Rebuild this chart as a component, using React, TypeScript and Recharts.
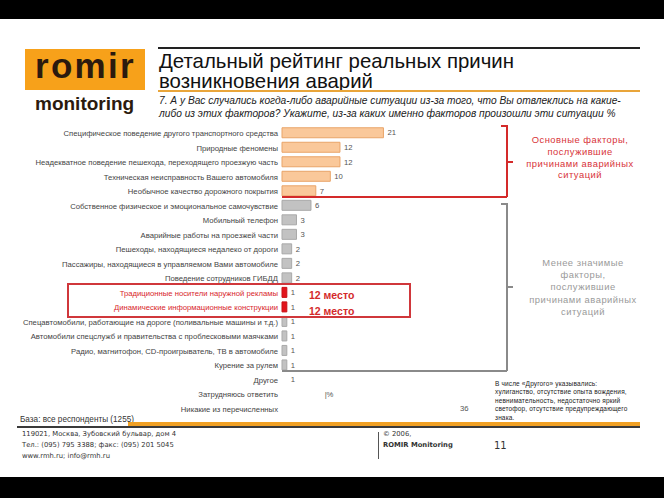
import React from "react";
import { BarChart, Bar, XAxis, YAxis, Cell, LabelList } from "recharts";

const categories = [
  "Специфическое поведение другого транспортного средства",
  "Природные феномены",
  "Неадекватное поведение пешехода, переходящего проезжую часть",
  "Техническая неисправность Вашего автомобиля",
  "Необычное качество дорожного покрытия",
  "Собственное физическое и эмоциональное самочувствие",
  "Мобильный телефон",
  "Аварийные работы на проезжей части",
  "Пешеходы, находящиеся недалеко от дороги",
  "Пассажиры, находящиеся в управляемом Вами автомобиле",
  "Поведение сотрудников ГИБДД",
  "Традиционные носители наружной рекламы",
  "Динамические информационные конструкции",
  "Спецавтомобили, работающие на дороге (поливальные машины и т.д.)",
  "Автомобили спецслужб и правительства с проблесковыми маячками",
  "Радио, магнитофон, CD-проигрыватель, ТВ в автомобиле",
  "Курение за рулем",
  "Другое",
  "Затрудняюсь ответить",
  "Никакие из перечисленных",
];

const values = [21, 12, 12, 10, 7, 6, 3, 3, 2, 2, 2, 1, 1, 1, 1, 1, 1, 1, 8, 36];

const valueLabels = [
  "21", "12", "12", "10", "7", "6", "3", "3", "2", "2", "2", "1", "1", "1", "1", "1", "1", "1", "|%", "36",
];

// main = top factors, minor = less significant, focus = highlighted rows, none = no bar drawn
const groups = [
  "main", "main", "main", "main", "main",
  "minor", "minor", "minor", "minor", "minor", "minor",
  "focus", "focus",
  "minor", "minor", "minor", "minor",
  "none", "none", "none",
];

const xTicks = [0, 40];

const FILL: Record<string, string> = {
  main: "#FAC89A",
  minor: "#C2C2C2",
  focus: "#E2141C",
  none: "transparent",
};
const EDGE: Record<string, string> = {
  main: "#E9A468",
  minor: "#A9A9A9",
  focus: "#C81016",
  none: "transparent",
};

const data = categories.map((name, i) => ({
  name,
  value: values[i],
  label: valueLabels[i],
  group: groups[i],
}));

const SANS = "'Liberation Sans', Arial, sans-serif";
const TAHOMA = "'DejaVu Sans', Verdana, sans-serif";

function CategoryTick(props: any) {
  const { x, y, payload } = props;
  const red = groups[payload.index] === "focus";
  return (
    <text
      x={x}
      y={y}
      dy={3}
      textAnchor="end"
      fontSize={7.7}
      fontFamily={SANS}
      fill={red ? "#D8262C" : "#444"}
    >
      {payload.value}
    </text>
  );
}

const abs = (s: React.CSSProperties): React.CSSProperties => ({ position: "absolute", ...s });

export default function App() {
  return (
    <div
      style={{
        position: "absolute",
        left: 0,
        top: 0,
        width: 664,
        height: 498,
        background: "#fff",
        overflow: "hidden",
        fontFamily: SANS,
      }}
    >
      {/* black bands */}
      <div style={abs({ left: 0, top: 0, width: 664, height: 19, background: "#000" })} />
      <div style={abs({ left: 0, top: 477, width: 664, height: 21, background: "#000" })} />

      {/* logo */}
      <div style={abs({ left: 25, top: 49, width: 120, height: 41, background: "#F7A11A" })} />
      <div
        style={abs({
          left: 35,
          top: 46,
          fontSize: 35,
          fontWeight: 700,
          color: "#2B1A0E",
          lineHeight: "40px",
          letterSpacing: 2.3,
        })}
      >
        romir
      </div>
      <div
        style={abs({ left: 35, top: 93, fontSize: 19, fontWeight: 700, color: "#2B1A0E", lineHeight: "22px" })}
      >
        monitoring
      </div>

      {/* title */}
      <div style={abs({ left: 158, top: 47, width: 482, height: 1.5, background: "#222" })} />
      <div
        style={abs({ left: 159, top: 51, fontSize: 20.4, lineHeight: "20px", color: "#111", whiteSpace: "nowrap" })}
      >
        Детальный рейтинг реальных причин
        <br />
        возникновения аварий
      </div>
      <div style={abs({ left: 158, top: 90, width: 482, height: 1.5, background: "#E9A53A" })} />
      <div
        style={abs({
          left: 159,
          top: 94,
          fontSize: 10.2,
          lineHeight: "13px",
          fontStyle: "italic",
          color: "#222",
          whiteSpace: "nowrap",
        })}
      >
        7. А у Вас случались когда-либо аварийные ситуации из-за того, что Вы отвлеклись на какие-
        <br />
        либо из этих факторов? Укажите, из-за каких именно факторов произошли эти ситуации %
      </div>

      {/* chart */}
      <div style={abs({ left: 0, top: 0 })}>
        <BarChart
          width={500}
          height={430}
          data={data}
          layout="vertical"
          margin={{ top: 125.75, right: 24.8, bottom: 14, left: 0 }}
          barSize={10}
        >
          <XAxis type="number" domain={[0, 40]} ticks={xTicks} hide />
          <YAxis
            type="category"
            dataKey="name"
            width={282}
            axisLine={false}
            tickLine={false}
            tickSize={2}
            tickMargin={2}
            interval={0}
            tick={<CategoryTick />}
          />
          <Bar dataKey="value" isAnimationActive={false} strokeWidth={1}>
            {data.map((d, i) => (
              <Cell key={i} fill={FILL[d.group]} stroke={EDGE[d.group]} />
            ))}
            <LabelList
              dataKey="label"
              position="right"
              offset={4}
              fontSize={7.7}
              fontFamily={SANS}
              fill="#555"
            />
          </Bar>
        </BarChart>
      </div>

      {/* main factors bracket (red) */}
      <div style={abs({ left: 501, top: 125, width: 6, height: 1.5, background: "#D42A2A" })} />
      <div style={abs({ left: 506, top: 125, width: 1.5, height: 72, background: "#D42A2A" })} />
      <div style={abs({ left: 282, top: 196, width: 225, height: 1.5, background: "#D42A2A" })} />
      <div style={abs({ left: 507, top: 161, width: 6, height: 1.5, background: "#D42A2A" })} />
      <div
        style={abs({
          left: 520,
          top: 134,
          width: 120,
          textAlign: "center",
          fontSize: 9.4,
          lineHeight: "11.8px",
          letterSpacing: 0.5,
          color: "#D8343A",
        })}
      >
        Основные факторы,
        <br />
        послужившие
        <br />
        причинами аварийных
        <br />
        ситуаций
      </div>

      {/* less significant bracket (gray) */}
      <div style={abs({ left: 501, top: 203, width: 6, height: 1.5, background: "#8A8A8A" })} />
      <div style={abs({ left: 506, top: 203, width: 1.5, height: 168, background: "#8A8A8A" })} />
      <div style={abs({ left: 282, top: 370, width: 225, height: 1.5, background: "#8A8A8A" })} />
      <div style={abs({ left: 507, top: 286, width: 6, height: 1.5, background: "#8A8A8A" })} />
      <div
        style={abs({
          left: 523,
          top: 257,
          width: 120,
          textAlign: "center",
          fontSize: 9.4,
          lineHeight: "12.2px",
          letterSpacing: 0.5,
          color: "#9A9A9A",
        })}
      >
        Менее значимые
        <br />
        факторы,
        <br />
        послужившие
        <br />
        причинами аварийных
        <br />
        ситуаций
      </div>

      {/* highlighted rows */}
      <div
        style={abs({
          left: 67,
          top: 283,
          width: 340,
          height: 31,
          border: "2px solid #D0373B",
        })}
      />
      <div style={abs({ left: 309, top: 289, fontSize: 10.5, fontWeight: 700, color: "#D42A2A", lineHeight: "12px" })}>
        12 место
      </div>
      <div style={abs({ left: 309, top: 305, fontSize: 10.5, fontWeight: 700, color: "#D42A2A", lineHeight: "12px" })}>
        12 место
      </div>

      {/* footnote */}
      <div
        style={abs({
          left: 495,
          top: 380,
          fontSize: 6.5,
          lineHeight: "8.4px",
          letterSpacing: 0.15,
          color: "#222",
          whiteSpace: "nowrap",
        })}
      >
        В числе «Другого» указывались:
        <br />
        хулиганство, отсутствие опыта вождения,
        <br />
        невнимательность, недостаточно яркий
        <br />
        светофор, отсутствие предупреждающего
        <br />
        знака.
      </div>

      {/* base */}
      <div style={abs({ left: 20, top: 414, fontSize: 8.2, color: "#333", lineHeight: "12px" })}>
        База: все респонденты (1255)
      </div>
      <div style={abs({ left: 128, top: 422, width: 512, height: 4, background: "#F0A024" })} />
      <div style={abs({ left: 17, top: 426, width: 623, height: 1.5, background: "#3A3A3A" })} />

      {/* footer */}
      <div
        style={abs({
          left: 22,
          top: 429,
          fontSize: 6.8,
          lineHeight: "10.8px",
          color: "#333",
          fontFamily: TAHOMA,
        })}
      >
        119021, Москва, Зубовский бульвар, дом 4
        <br />
        Тел.: (095) 795 3388; факс: (095) 201 5045
        <br />
        www.rmh.ru; info@rmh.ru
      </div>
      <div style={abs({ left: 378, top: 432, width: 1, height: 27, background: "#555" })} />
      <div
        style={abs({
          left: 383,
          top: 429,
          fontSize: 6.8,
          lineHeight: "10.8px",
          color: "#333",
          fontFamily: TAHOMA,
        })}
      >
        © 2006,
        <br />
        <b>ROMIR Monitoring</b>
      </div>
      <div style={abs({ left: 494, top: 440, fontSize: 10, color: "#333", fontFamily: TAHOMA })}>11</div>
    </div>
  );
}
